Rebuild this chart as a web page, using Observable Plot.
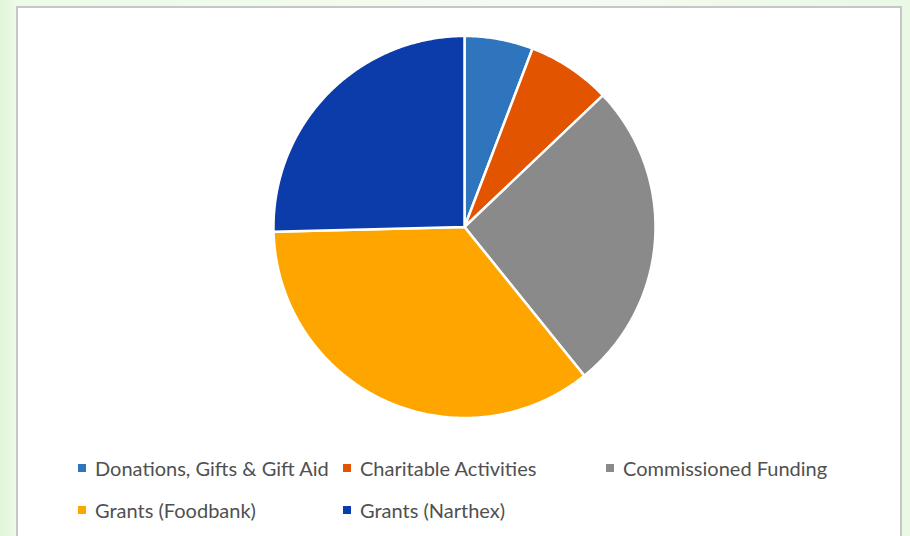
<!DOCTYPE html>
<html>
<head>
<meta charset="utf-8">
<script src="https://cdn.jsdelivr.net/npm/d3@7"></script>
<script src="https://cdn.jsdelivr.net/npm/@observablehq/plot@0.6"></script>
<style>
html, body { margin:0; padding:0; width:910px; height:536px; overflow:hidden; }
body { background: linear-gradient(90deg, #e0f6da 0px, #ecfae7 16px, #f4fcf2 60%, #eaf8e6 100%); font-family: Lato, "Open Sans", sans-serif; position:relative; }
#frame { position:absolute; left:16px; top:6px; width:886px; height:560px; background:#fff; border:2px solid #c6c6c6; box-sizing:border-box; }
#chart { position:absolute; left:0; top:0; }
#legend { position:absolute; left:78px; top:447px; display:grid; grid-template-columns:265px 263px 260px; }
.item { display:flex; align-items:center; height:42px; color:#505050; font-size:20px; white-space:nowrap; }
.sw { width:8px; height:8px; margin-right:9px; flex:none; }
</style>
</head>
<body>
<div id="frame"></div>
<div id="chart"></div>
<div id="legend"></div>
<script>
const categories = ["Donations, Gifts & Gift Aid", "Charitable Activities", "Commissioned Funding", "Grants (Foodbank)", "Grants (Narthex)"];
const values = [5.8, 7.1, 26.3, 35.4, 25.4];
const colors = ["#2E75BD", "#E25400", "#8A8A8A", "#FFA500", "#0C3CAA"];

// Build wedge outlines from the values with d3.pie (clockwise from 12 o'clock)
const arcs = d3.pie().sort(null).value(d => d)(values);
const pts = [];
arcs.forEach((a, i) => {
  const name = categories[i];
  pts.push({name, x: 0, y: 0});
  const n = Math.max(2, Math.ceil((a.endAngle - a.startAngle) / (Math.PI / 360)));
  for (let k = 0; k <= n; k++) {
    const t = a.startAngle + (a.endAngle - a.startAngle) * k / n;
    pts.push({name, x: Math.sin(t), y: Math.cos(t)});
  }
  pts.push({name, x: 0, y: 0});
});

const chart = Plot.plot({
  width: 910,
  height: 440,
  style: {background: "transparent", overflow: "visible"},
  x: {domain: [-1, 1], range: [273, 655], axis: null},
  y: {domain: [-1, 1], range: [417.5, 35.5], axis: null},
  color: {domain: categories, range: colors},
  marks: [
    Plot.line(pts, {x: "x", y: "y", z: "name", fill: "name", stroke: "white", strokeWidth: 2.5, strokeLinejoin: "round", curve: "linear"})
  ]
});
document.getElementById("chart").appendChild(chart);

const legend = document.getElementById("legend");
categories.forEach((c, i) => {
  const it = document.createElement("div");
  it.className = "item";
  const sw = document.createElement("span");
  sw.className = "sw";
  sw.style.background = colors[i];
  const tx = document.createElement("span");
  tx.textContent = c;
  it.appendChild(sw); it.appendChild(tx);
  legend.appendChild(it);
});
</script>
</body>
</html>
